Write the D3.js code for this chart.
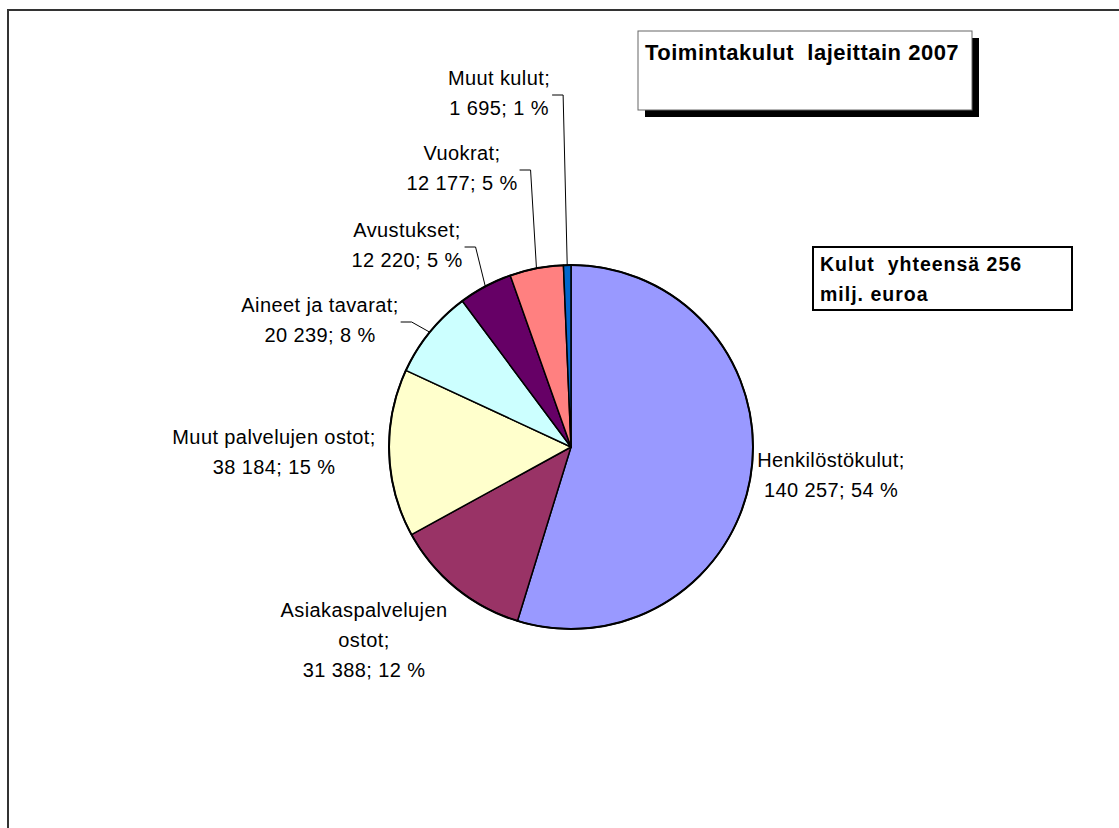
<!DOCTYPE html>
<html>
<head>
<meta charset="utf-8">
<script src="https://cdn.jsdelivr.net/npm/d3@7"></script>
<style>
  body { margin: 0; background: #fff; }
  svg text { font-family: Arial, "Liberation Sans", sans-serif; }
  .lbl { font-size: 20px; letter-spacing: 0.4px; fill: #000; }
  .title { font-size: 22px; font-weight: bold; letter-spacing: 0.5px; white-space: pre; }
  .total { font-size: 19.5px; font-weight: bold; letter-spacing: 1px; white-space: pre; }
</style>
</head>
<body>
<div id="chart"></div>
<script>
// data
var categories = ["Henkilöstökulut", "Asiakaspalvelujen ostot", "Muut palvelujen ostot",
                  "Aineet ja tavarat", "Avustukset", "Vuokrat", "Muut kulut"];
var values = [140257, 31388, 38184, 20239, 12220, 12177, 1695];
var percents = [54, 12, 15, 8, 5, 5, 1];
var colors = ["#9999FF", "#993366", "#FFFFCC", "#CCFFFF", "#660066", "#FF8080", "#0066CC"];
var titleText = "Toimintakulut  lajeittain 2007";
var totalText = ["Kulut  yhteensä 256", "milj. euroa"];

// label placement (centre x, first baseline), leader = has a leader line
var labelLayout = [
  {x: 831, y: 467, wrap: false, leader: false},
  {x: 364, y: 617, wrap: true,  leader: false},
  {x: 274, y: 444, wrap: false, leader: false},
  {x: 320, y: 312, wrap: false, leader: true},
  {x: 407, y: 237, wrap: false, leader: true},
  {x: 462, y: 160, wrap: false, leader: true},
  {x: 499, y: 85,  wrap: false, leader: true}
];

var width = 1119, height = 828,
    cx = 571, cy = 447, radius = 182,
    lineH = 30;

var fmt = d3.formatLocale({decimal: ",", thousands: " ", grouping: [3], currency: ["", ""]}).format(",d");

var svg = d3.select("#chart").append("svg")
    .attr("width", width)
    .attr("height", height);

// chart area border (only top/left visible in frame)
svg.append("rect")
    .attr("x", 8).attr("y", 10)
    .attr("width", width + 20).attr("height", height + 20)
    .attr("fill", "#fff")
    .attr("stroke", "#333")
    .attr("stroke-width", 2);

// Pie
var pie = d3.pie().sort(null).value(function(d) { return d; });
var arcs = pie(values);
var arc = d3.arc().innerRadius(0).outerRadius(radius);

var g = svg.append("g").attr("transform", "translate(" + cx + "," + cy + ")");

g.selectAll("path.slice")
    .data(arcs)
  .enter().append("path")
    .attr("class", "slice")
    .attr("d", arc)
    .attr("fill", function(d, i) { return colors[i]; })
    .attr("stroke", "#000")
    .attr("stroke-width", 1.5)
    .attr("stroke-linejoin", "round");

g.append("circle")
    .attr("r", radius)
    .attr("fill", "none")
    .attr("stroke", "#000")
    .attr("stroke-width", 2);

// Labels
var labels = svg.append("g");
arcs.forEach(function(a, i) {
  var lay = labelLayout[i];
  var first = lay.wrap ? categories[i].split(" ") : [categories[i]];
  first[first.length - 1] += ";";
  var lines = first.concat([fmt(values[i]) + "; " + percents[i] + " %"]);

  var t = labels.append("text")
      .attr("class", "lbl")
      .attr("text-anchor", "middle");
  lines.forEach(function(l, k) {
    t.append("tspan").attr("x", lay.x).attr("y", lay.y + k * lineH).text(l);
  });

  if (lay.leader) {
    var bb = t.node().getBBox();
    var midY = lay.y + 10;
    var ang = (a.startAngle + a.endAngle) / 2;
    var px = cx + radius * Math.sin(ang),
        py = cy - radius * Math.cos(ang);
    var x0 = bb.x + bb.width + 2;
    svg.append("path")
        .attr("d", d3.line()([[x0, midY], [x0 + 11, midY], [px, py]]))
        .attr("fill", "none")
        .attr("stroke", "#000")
        .attr("stroke-width", 1);
  }
});

// Title box with shadow
svg.append("rect")
    .attr("x", 645).attr("y", 38).attr("width", 334).attr("height", 79)
    .attr("fill", "#000");
svg.append("rect")
    .attr("x", 638).attr("y", 31).attr("width", 334).attr("height", 79)
    .attr("fill", "#fff")
    .attr("stroke", "#666")
    .attr("stroke-width", 1);
svg.append("text")
    .attr("class", "title")
    .attr("x", 645).attr("y", 60)
    .text(titleText);

// Total box
svg.append("rect")
    .attr("x", 813).attr("y", 247).attr("width", 259).attr("height", 63)
    .attr("fill", "#fff")
    .attr("stroke", "#000")
    .attr("stroke-width", 2);
svg.append("g").selectAll("text")
    .data(totalText)
  .enter().append("text")
    .attr("class", "total")
    .attr("x", 820)
    .attr("y", function(d, i) { return 271 + i * 30; })
    .text(function(d) { return d; });
</script>
</body>
</html>
